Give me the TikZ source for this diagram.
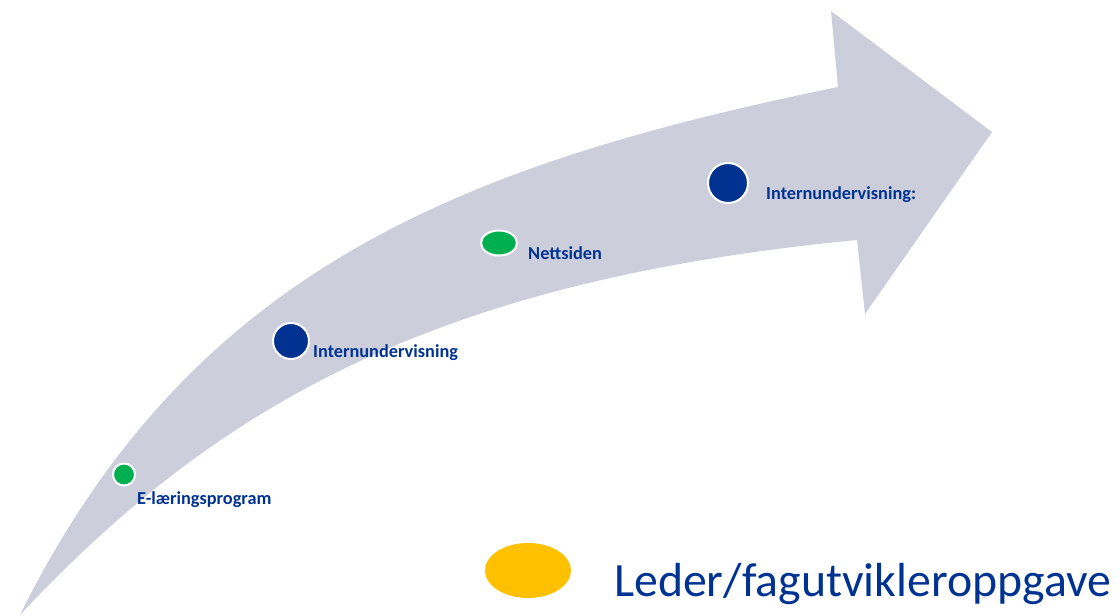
\documentclass[tikz,border=0pt]{standalone}
\usepackage{fontspec}
\setmainfont{Carlito}
\usetikzlibrary{shapes.geometric}
\definecolor{arrowgray}{RGB}{204,206,220}
\definecolor{darkblue}{RGB}{0,51,145}
\definecolor{markgreen}{RGB}{0,176,80}
\definecolor{markyellow}{RGB}{255,192,0}
\tikzset{
  bigarrow/.style={fill=arrowgray, draw=none},
  dot/.style={circle, draw=white, line width=2pt, inner sep=0pt},
  oval/.style={ellipse, draw=white, line width=2pt, inner sep=0pt},
  lbl/.style={anchor=base west, inner sep=0pt, text=darkblue, font=\fontsize{18.3}{20}\selectfont\bfseries},
  legendtext/.style={anchor=base west, inner sep=0pt, text=darkblue, font=\fontsize{47.8}{52}\selectfont}
}
\begin{document}
\begin{tikzpicture}[x=1pt, y=-1pt]
\useasboundingbox (0,0) rectangle (1120,616);
% curved arrow
\path[bigarrow] (20,615) .. controls (191,270) and (460,164.5) .. (838,87)
  -- (831,11) -- (992,132) -- (865,314) -- (857,240)
  .. controls (441,280) and (220,401) .. (20,615) -- cycle;
% markers
\node[dot, fill=markgreen, minimum size=22pt] (m1) at (124,474.5) {};
\node[dot, fill=darkblue, minimum size=36pt] (m2) at (291,341) {};
\node[oval, fill=markgreen, minimum width=36pt, minimum height=25pt] (m3) at (499,243) {};
\node[dot, fill=darkblue, minimum size=40pt] (m4) at (728,183) {};
% labels
\node[lbl] (l1) at (137,504) {E-læringsprogram};
\node[lbl] (l2) at (313,357) {Internundervisning};
\node[lbl] (l3) at (528,259) {Nettsiden};
\node[lbl] (l4) at (766,199) {Internundervisning:};
% legend
\node[ellipse, fill=markyellow, inner sep=0pt, minimum width=86pt, minimum height=55pt] (leg) at (528,570.5) {};
\node[legendtext] (legt) at (614,596) {Leder/fagutvikleroppgave};
\end{tikzpicture}
\end{document}
